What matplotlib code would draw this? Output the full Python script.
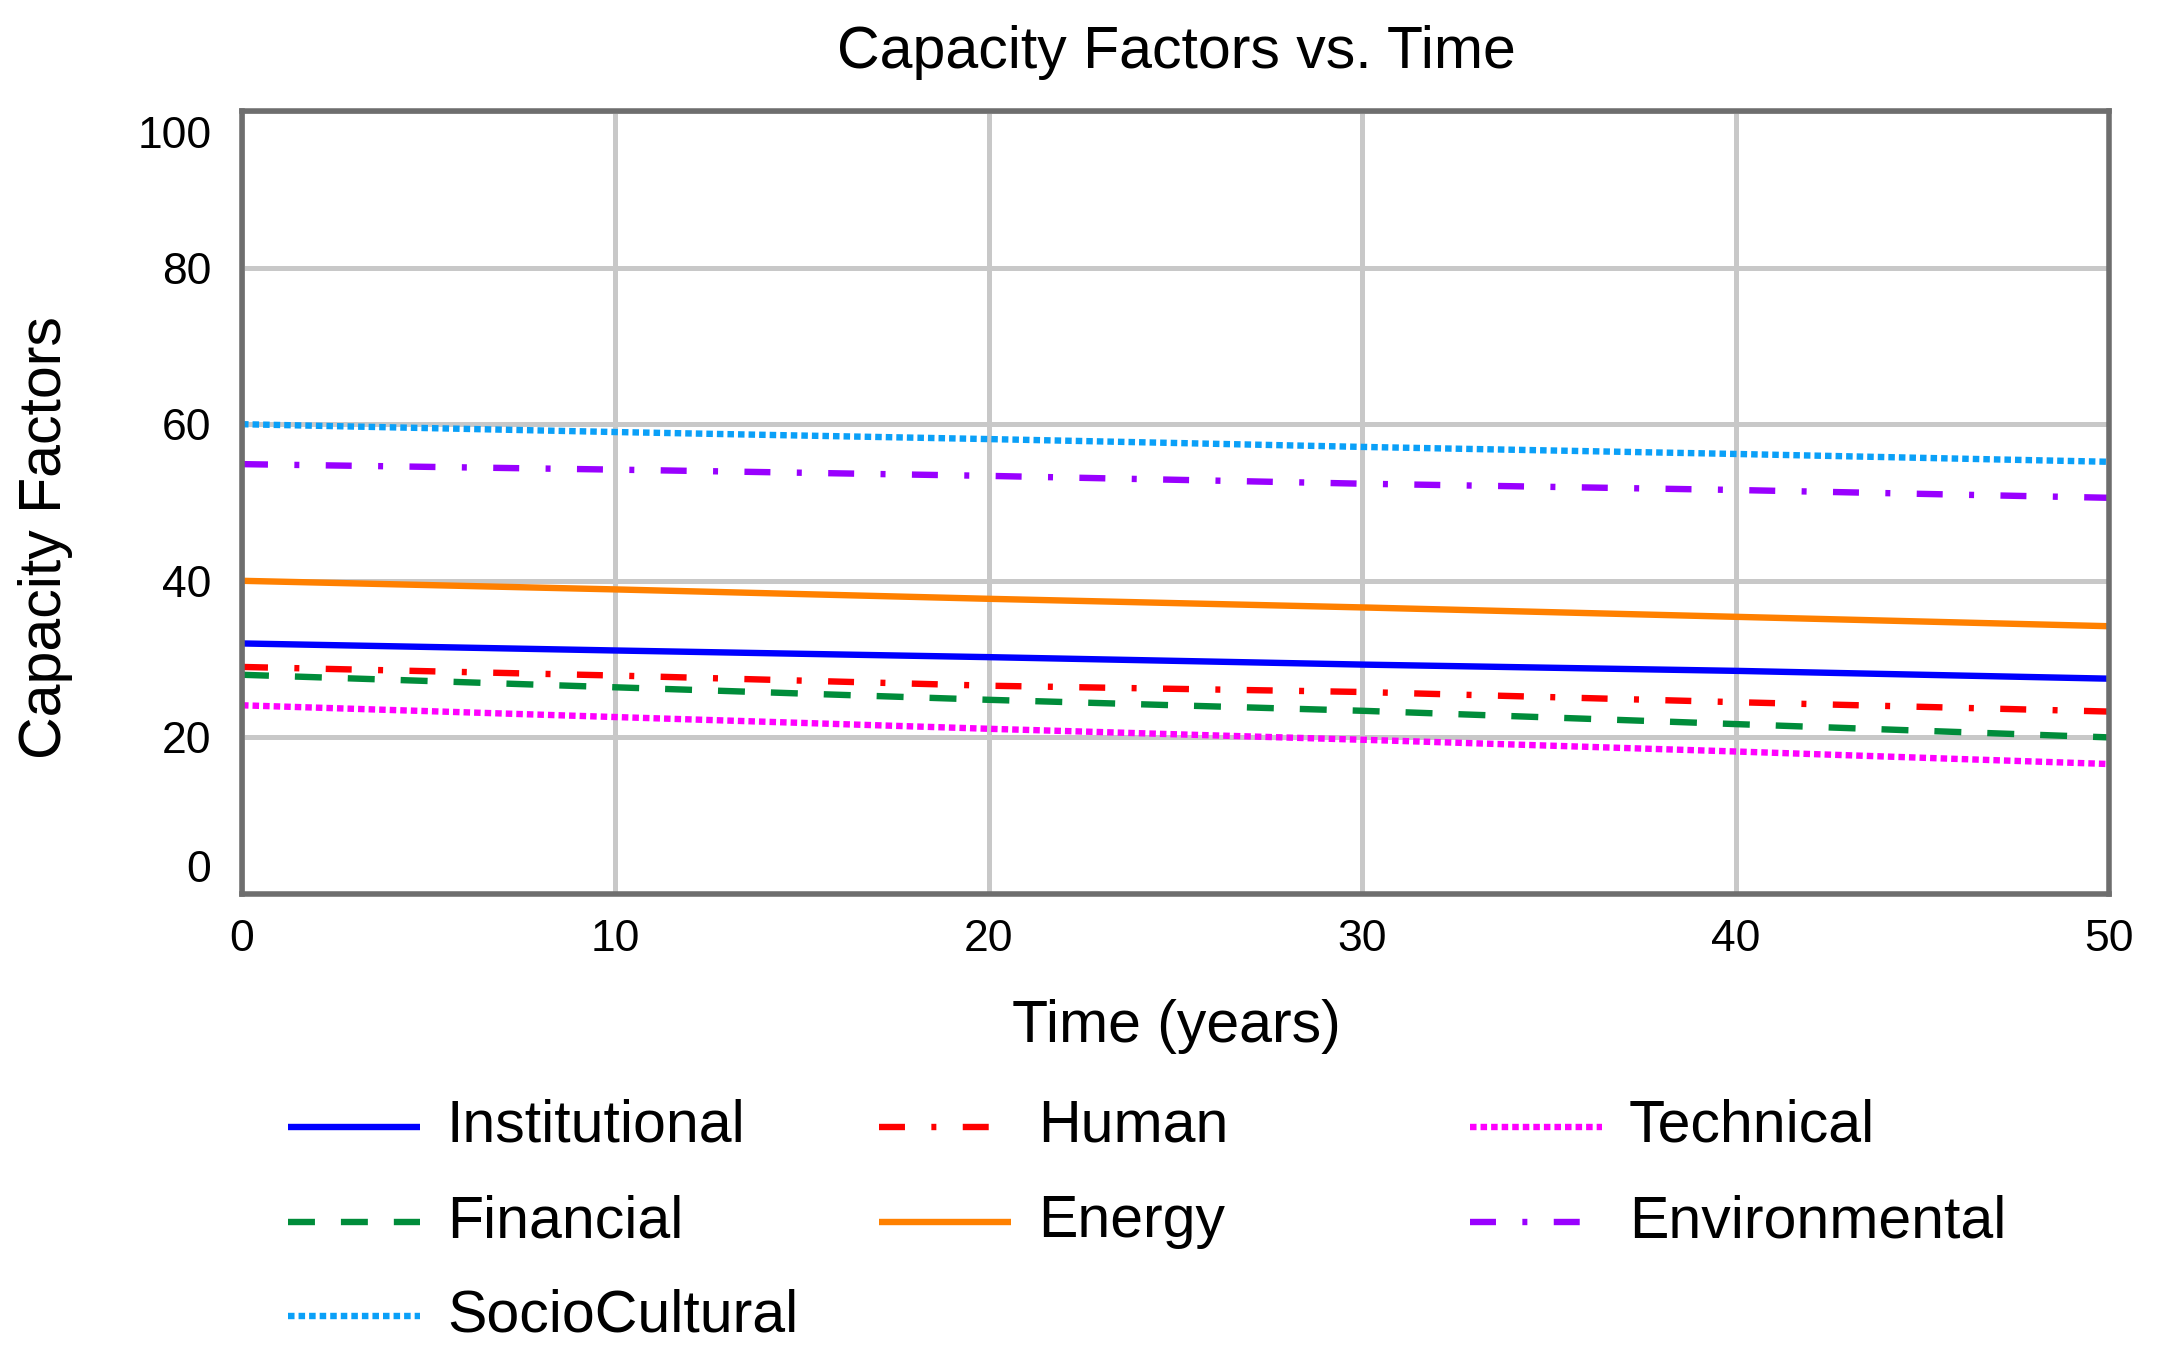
import matplotlib
matplotlib.use("Agg")
import matplotlib.pyplot as plt
from matplotlib.lines import Line2D
from matplotlib.transforms import ScaledTranslation

plt.rcParams['font.family'] = ['Liberation Sans', 'DejaVu Sans']
plt.rcParams['lines.scale_dashes'] = False

# data
years = [0, 10, 20, 30, 40, 50]
institutional = [32.0, 31.1, 30.25, 29.3, 28.5, 27.5]
human = [29.0, 27.9, 26.6, 25.8, 24.5, 23.3]
technical = [24.1, 22.6, 21.1, 19.7, 18.2, 16.6]
financial = [28.0, 26.4, 24.8, 23.4, 21.7, 20.0]
energy = [40.0, 38.9, 37.7, 36.6, 35.4, 34.2]
environmental = [54.9, 54.2, 53.4, 52.4, 51.6, 50.6]
sociocultural = [60.0, 59.0, 58.1, 57.1, 56.2, 55.2]

x_ticks = [0, 10, 20, 30, 40, 50]
y_ticks = [0, 20, 40, 60, 80, 100]

W, H = 2157, 1356
DPI = 100
LW = 4.6

dashdot = (0, (18.7, 19.0, 3.6, 19.0))
dashed = (0, (19.4, 18.7))
dotted = (0, (4.7, 2.9))

# (label, values, color, linestyle, legend column, legend row)
series = [
    ('Institutional', institutional, '#0000ff', '-', 0, 0),
    ('Human', human, '#ff0000', dashdot, 1, 0),
    ('Technical', technical, '#ff00ff', dotted, 2, 0),
    ('Financial', financial, '#008c3a', dashed, 0, 1),
    ('Energy', energy, '#ff8000', '-', 1, 1),
    ('Environmental', environmental, '#9900ff', dashdot, 2, 1),
    ('SocioCultural', sociocultural, '#0aa0f8', dotted, 0, 2),
]

fig = plt.figure(figsize=(W / DPI, H / DPI), dpi=DPI)
fig.patch.set_facecolor('white')

ax_l, ax_r, ax_t, ax_b = 242, 2109, 111, 894
ax = fig.add_axes([ax_l / W, 1 - ax_b / H, (ax_r - ax_l) / W, (ax_b - ax_t) / H])

for label, vals, color, ls, col, row in series:
    ax.plot(years, vals, color=color, linestyle=ls, linewidth=LW,
            dash_capstyle='butt', solid_capstyle='butt', zorder=3)

ax.set_xlim(0, 50)
ax.set_ylim(0, 100)
ax.set_xticks(x_ticks)
ax.set_yticks(y_ticks)
ax.grid(True, color='#c8c8c8', linewidth=3.6)
ax.set_axisbelow(True)
for sp in ax.spines.values():
    sp.set_color('#6e6e6e')
    sp.set_linewidth(4.0)
    sp.set_zorder(4)
ax.tick_params(axis='both', length=0, labelsize=32, colors='black')
ax.tick_params(axis='x', pad=18)
ax.tick_params(axis='y', pad=22)

# end labels on the y axis sit inside the frame
yt = ax.yaxis.get_major_ticks()
yt[0].label1.set_transform(yt[0].label1.get_transform() +
                           ScaledTranslation(0, 20 / 72, fig.dpi_scale_trans))
yt[-1].label1.set_transform(yt[-1].label1.get_transform() +
                            ScaledTranslation(0, -15 / 72, fig.dpi_scale_trans))

fig.text(1176 / W, 1 - 68 / H, 'Capacity Factors vs. Time', ha='center',
         va='baseline', fontsize=42.5)
fig.text(1176 / W, 1 - 1042 / H, 'Time (years)', ha='center', va='baseline',
         fontsize=42.5)
fig.text(46 / W, 1 - 538 / H, 'Capacity Factors', ha='center', va='center',
         rotation=90, fontsize=42.5)

# legend, laid out in three evenly spaced columns
col_x = [288, 879, 1470]
row_y = [1127, 1222, 1316]
for label, vals, color, ls, col, row in series:
    x0 = col_x[col]
    y0 = row_y[row]
    fig.add_artist(Line2D([x0 / W, (x0 + 132) / W], [1 - y0 / H, 1 - y0 / H],
                          color=color, linestyle=ls, linewidth=LW,
                          dash_capstyle='butt', solid_capstyle='butt'))
    fig.text((x0 + 159) / W, 1 - (y0 + 15) / H, label, ha='left',
             va='baseline', fontsize=42.5)

fig.savefig('out.png', dpi=DPI, facecolor='white')
